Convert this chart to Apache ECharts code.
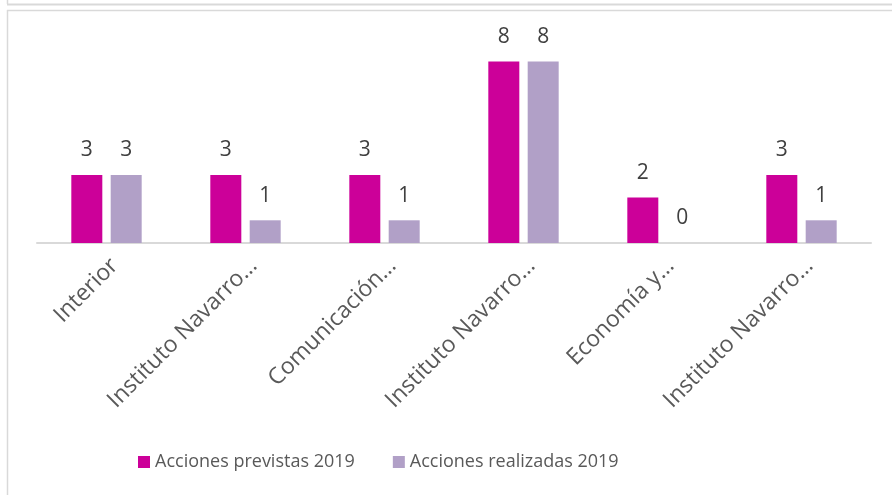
<!DOCTYPE html>
<html>
<head>
<meta charset="utf-8">
<script src="https://cdn.jsdelivr.net/npm/echarts@6/dist/echarts.min.js"></script>
<style>
    html, body { margin: 0; padding: 0; background: #fff; }
    #chart { width: 892px; height: 495px; }
</style>
</head>
<body>
<div id="chart"></div>
<script>
var categories = ['Interior', 'Instituto Navarro…', 'Comunicación…', 'Instituto Navarro…', 'Economía y…', 'Instituto Navarro…'];
var previstas = [3, 3, 3, 8, 2, 3];
var realizadas = [3, 1, 1, 8, 0, 1];
var seriesNames = ['Acciones previstas 2019', 'Acciones realizadas 2019'];

var fontName = 'Open Sans';
var frameColor = '#d9d9d9';

function renderChart() {
    var myChart = echarts.init(document.getElementById('chart'));

    var labelStyle = {
        show: true,
        position: 'top',
        distance: 14,
        color: '#404040',
        fontFamily: fontName,
        fontSize: 21
    };

    var option = {
        animation: false,
        textStyle: { fontFamily: fontName },
        graphic: [
            // bottom edge of the panel above and frame of this one
            { type: 'line', shape: { x1: 7, y1: 4.5, x2: 892, y2: 4.5 }, style: { stroke: frameColor, lineWidth: 2 } },
            { type: 'line', shape: { x1: 7.5, y1: 0, x2: 7.5, y2: 4 }, style: { stroke: frameColor, lineWidth: 1.5 } },
            { type: 'line', shape: { x1: 7, y1: 10.5, x2: 892, y2: 10.5 }, style: { stroke: frameColor, lineWidth: 1.5 } },
            { type: 'line', shape: { x1: 7.5, y1: 10, x2: 7.5, y2: 495 }, style: { stroke: frameColor, lineWidth: 1.5 } }
        ],
        grid: {
            left: 37,
            right: 21,
            top: 16,
            bottom: 252,
            containLabel: false
        },
        legend: {
            data: seriesNames,
            top: 448,
            left: 133,
            icon: 'rect',
            itemWidth: 12,
            itemHeight: 12,
            itemGap: 38,
            textStyle: {
                color: '#595959',
                fontFamily: fontName,
                fontSize: 18
            }
        },
        xAxis: {
            type: 'category',
            data: categories,
            axisLine: { lineStyle: { color: frameColor, width: 2 } },
            axisTick: { show: false },
            axisLabel: {
                interval: 0,
                rotate: 45,
                margin: 11,
                verticalAlign: 'top',
                color: '#595959',
                fontFamily: fontName,
                fontSize: 23
            }
        },
        yAxis: {
            type: 'value',
            min: 0,
            max: 10,
            show: false,
            splitLine: { show: false }
        },
        series: [{
            name: seriesNames[0],
            type: 'bar',
            data: previstas,
            barWidth: 31,
            barGap: '27%',
            itemStyle: { color: '#cc0099' },
            label: labelStyle
        }, {
            name: seriesNames[1],
            type: 'bar',
            data: realizadas,
            barWidth: 31,
            itemStyle: { color: '#b1a0c7' },
            label: labelStyle
        }]
    };

    myChart.setOption(option);
}

renderChart();
</script>
</body>
</html>
